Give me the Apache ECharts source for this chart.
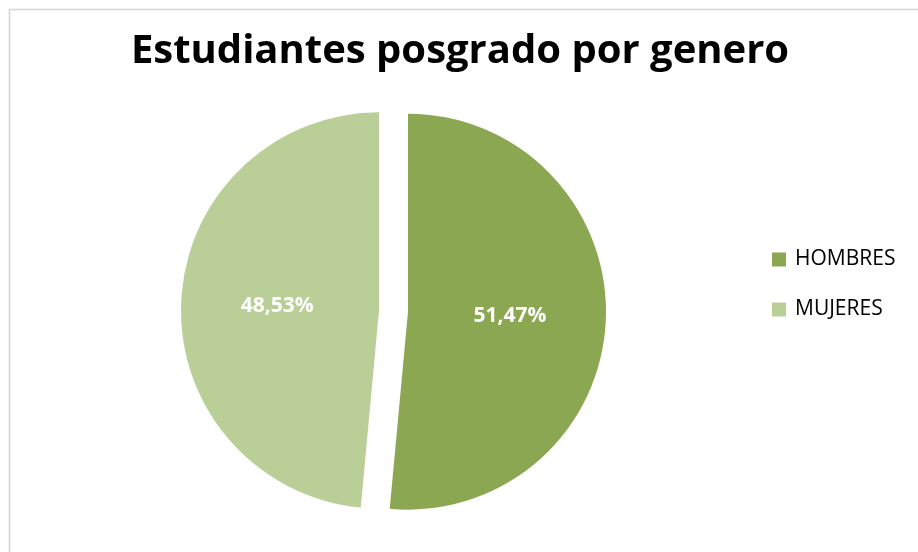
<!DOCTYPE html>
<html>
<head>
<meta charset="utf-8">
<script src="https://cdn.jsdelivr.net/npm/echarts@6/dist/echarts.min.js"></script>
<style>
  html, body { margin: 0; padding: 0; background: #ffffff; }
  #chart { width: 918px; height: 552px; }
</style>
</head>
<body>
<div id="chart"></div>
<script>
// Postgraduate students by gender (percent shares)
const categories = ['HOMBRES', 'MUJERES'];
const shares = [51.47, 48.53];
const sliceColors = ['#8BA751', '#B9CF97'];

const chart = echarts.init(document.getElementById('chart'));

const pieData = categories.map((name, i) => ({
  name: name,
  value: shares[i],
  selected: true,
  itemStyle: { color: sliceColors[i] }
}));

chart.setOption({
  animation: false,
  backgroundColor: '#ffffff',
  graphic: [{
    type: 'rect',
    shape: { x: 9.5, y: 9.5, width: 960, height: 600 },
    style: { fill: 'none', stroke: '#d4d4d4', lineWidth: 1.5 },
    silent: true,
    z: -1
  }],
  title: {
    text: 'Estudiantes posgrado por genero',
    left: 455,
    textAlign: 'center',
    top: 27,
    textStyle: {
      fontFamily: 'Open Sans',
      fontWeight: 'bold',
      fontSize: 40,
      color: '#000000'
    }
  },
  legend: {
    orient: 'vertical',
    left: 772,
    top: 249,
    padding: 0,
    itemWidth: 14,
    itemHeight: 14,
    itemGap: 29,
    icon: 'rect',
    selectedMode: false,
    textStyle: {
      fontFamily: 'Open Sans',
      fontSize: 21,
      lineHeight: 14,
      color: '#000000',
      padding: [0, 0, 0, 4]
    },
    data: categories
  },
  series: [{
    type: 'pie',
    center: [393.5, 311],
    radius: 198,
    startAngle: 90,
    clockwise: true,
    selectedMode: 'multiple',
    selectedOffset: 14.5,
    emphasis: { disabled: true },
    label: {
      show: true,
      position: 'inside',
      color: '#ffffff',
      fontFamily: 'Open Sans',
      fontWeight: 'bold',
      fontSize: 21,
      formatter: p => p.value.toFixed(2).replace('.', ',') + '%'
    },
    labelLine: { show: false },
    itemStyle: { borderWidth: 0 },
    data: pieData
  }]
});
</script>
</body>
</html>
